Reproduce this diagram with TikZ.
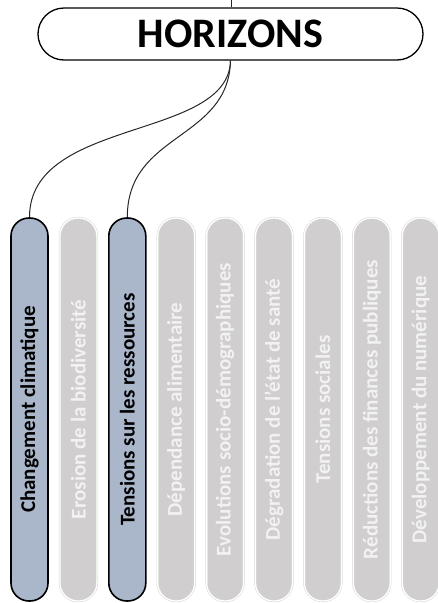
\documentclass[tikz,border=0pt]{standalone}
\usepackage{fontspec}
\setmainfont{Carlito}
\definecolor{activefill}{HTML}{AAB7CA}
\definecolor{idlefill}{HTML}{D0CECE}
\definecolor{idleline}{HTML}{D6D6D6}
\definecolor{idletext}{HTML}{F2F2F2}
\begin{document}
\begin{tikzpicture}[x=1pt,y=-1pt,
  barbase/.style={minimum width=37pt,minimum height=383pt,inner sep=0pt,rounded corners=18pt,font=\bfseries\fontsize{21}{21}\selectfont},
  activebar/.style={barbase,fill=activefill,draw=black,line width=1.6pt,text=black},
  idlebar/.style={barbase,fill=idlefill,draw=idleline,double=white,double distance=1.3pt,line width=0.5pt,text=idletext},
  link/.style={draw=black!85,line width=1pt}]
\useasboundingbox (0,0) rectangle (438,603);
\node[draw=black,line width=1.3pt,rounded corners=26pt,minimum width=385pt,minimum height=52pt,inner sep=0pt,font=\bfseries\fontsize{42}{42}\selectfont] (h) at (230.5,34) {HORIZONS};
\coordinate (top) at (231.5,0);
\node[activebar] (b1) at (29.5,409.5) {\rotatebox{90}{Changement climatique}};
\node[idlebar] (b2) at (78.4,409.5) {\rotatebox{90}{Erosion de la biodiversité}};
\node[activebar] (b3) at (127.3,409.5) {\rotatebox{90}{Tensions sur les ressources}};
\node[idlebar] (b4) at (176.2,409.5) {\rotatebox{90}{Dépendance alimentaire}};
\node[idlebar] (b5) at (225.1,409.5) {\rotatebox{90}{Evolutions socio-démographiques}};
\node[idlebar] (b6) at (274,409.5) {\rotatebox{90}{Dégradation de l’état de santé}};
\node[idlebar] (b7) at (322.9,409.5) {\rotatebox{90}{Tensions sociales}};
\node[idlebar] (b8) at (371.8,409.5) {\rotatebox{90}{Réductions des finances publiques}};
\node[idlebar] (b9) at (420.7,409.5) {\rotatebox{90}{Développement du numérique}};
\draw[link] (top) -- (h.north -| top);
\draw[link] (h.south) .. controls +(-2,80) and +(0,-100) .. (b1.north);
\draw[link] (h.south) .. controls +(-2,80) and +(0,-85) .. (b3.north);
\end{tikzpicture}
\end{document}
